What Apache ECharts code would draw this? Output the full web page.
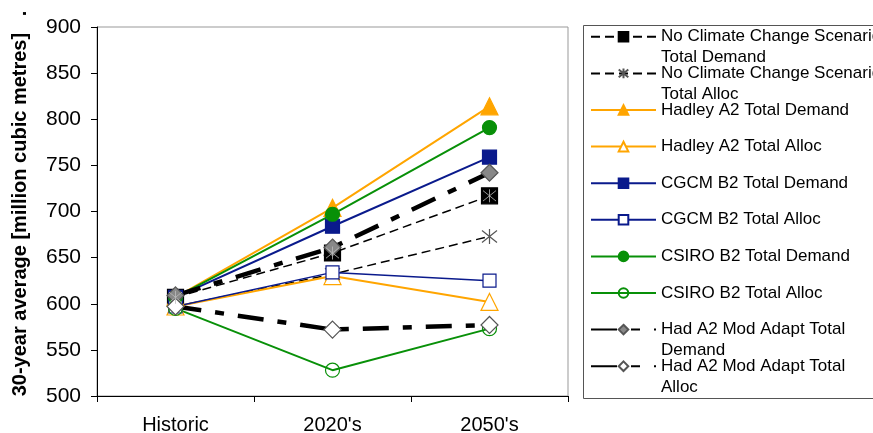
<!DOCTYPE html>
<html><head><meta charset="utf-8">
<script src="https://cdn.jsdelivr.net/npm/echarts@6/dist/echarts.min.js"></script>
<style>html,body{margin:0;padding:0;background:#fff}#c{width:873px;height:433px}</style>
</head><body><div id="c"></div>
<script>
const categories = ["Historic", "2020's", "2050's"];
const yTicks = [500, 550, 600, 650, 700, 750, 800, 850, 900];
const nccDemand = [607, 655, 717];
const nccAlloc = [597, 632, 673];
const hadleyDemand = [607, 704, 814];
const hadleyAlloc = [597, 630, 602];
const cgcmDemand = [607, 684, 759];
const cgcmAlloc = [597, 634, 625];
const csiroDemand = [607, 697, 791];
const csiroAlloc = [595, 528, 573];
const hadModDemand = [609, 661, 742];
const hadModAlloc = [597, 572, 577];

const names = [
  "No Climate Change Scenario\nTotal Demand",
  "No Climate Change Scenario\nTotal Alloc",
  "Hadley A2 Total Demand",
  "Hadley A2 Total Alloc",
  "CGCM B2 Total Demand",
  "CGCM B2 Total Alloc",
  "CSIRO B2 Total Demand",
  "CSIRO B2 Total Alloc",
  "Had A2 Mod Adapt Total\nDemand",
  "Had A2 Mod Adapt Total\nAlloc"
];
const ORANGE = '#FFA500', NAVY = '#0a1a8c', GREEN = '#089008';
const STAR = 'path://M0,-1L0,1M-0.8,-0.8L0.8,0.8M-0.8,0.8L0.8,-0.8';
const thick = [26, 14, 9, 14];

function line(name, data, color, width, type, symbol, size, fill, border) {
  return {
    name, type: 'line', data, symbol, symbolSize: size,
    lineStyle: { color, width, type },
    itemStyle: { color: fill, borderColor: border || fill, borderWidth: 1.2 },
    emphasis: { disabled: true }, z: 2
  };
}
const series = [
  line(names[0], nccDemand, '#000', 1.5, [9, 5], 'rect', 16, '#000', '#000'),
  line(names[1], nccAlloc, '#000', 1.5, [9, 5], STAR, 15, 'rgba(0,0,0,0)', '#555'),
  line(names[2], hadleyDemand, ORANGE, 2, 'solid', 'triangle', 17, ORANGE),
  line(names[3], hadleyAlloc, ORANGE, 2, 'solid', 'triangle', 17, '#fff', ORANGE),
  line(names[4], cgcmDemand, NAVY, 2, 'solid', 'rect', 14, NAVY),
  line(names[5], cgcmAlloc, NAVY, 1.5, 'solid', 'rect', 13, '#fff', NAVY),
  line(names[6], csiroDemand, GREEN, 2, 'solid', 'circle', 14, GREEN),
  line(names[7], csiroAlloc, GREEN, 2, 'solid', 'circle', 14, 'rgba(255,255,255,0)', GREEN),
  line(names[8], hadModDemand, '#000', 4.5, thick, 'diamond', 17, '#888', '#555'),
  line(names[9], hadModAlloc, '#000', 4.5, thick, 'diamond', 17, '#fff', '#555'),
  { name: 'star1', type: 'scatter', data: nccDemand, symbol: STAR, symbolSize: 13,
    itemStyle: { color: 'rgba(0,0,0,0)', borderColor: '#bbb', borderWidth: 1 }, z: 3, silent: true }
];

const LH = 21;
const legends = names.map((n, i) => {
  const two = n.indexOf('\n') >= 0;
  const cy = 36.8 + 36.6 * i;
  return {
    data: [n],
    formatter: two ? (nm => ' \n' + nm) : (nm => nm),
    left: 590, top: cy - (two ? 1.5 * LH : 0.5 * LH),
    orient: 'vertical', itemWidth: 65, itemHeight: 12, itemGap: 0, padding: 0,
    selectedMode: false,
    textStyle: { fontSize: 17, fontFamily: 'Liberation Sans', color: '#000', lineHeight: LH }
  };
});

const chart = echarts.init(document.getElementById('c'), null, { renderer: 'canvas' });
chart.setOption({
  animation: false,
  backgroundColor: '#fff',
  grid: { left: 97, right: 305, top: 27, bottom: 37, show: true, borderColor: '#999', borderWidth: 1,
    containLabel: false, outerBoundsMode: 'none' },
  legend: legends,
  graphic: [{ type: 'rect', shape: { x: 583.5, y: 25.5, width: 320, height: 373 },
    style: { fill: 'none', stroke: '#555', lineWidth: 1 }, z: -1 }],
  xAxis: {
    type: 'category', data: categories, boundaryGap: true,
    axisLine: { lineStyle: { color: '#000', width: 1 } },
    axisTick: { show: true, length: 6, lineStyle: { color: '#000' } },
    axisLabel: { fontSize: 20, fontFamily: 'Liberation Sans', color: '#000', margin: 19 }
  },
  yAxis: {
    type: 'value', min: yTicks[0], max: yTicks[yTicks.length - 1], interval: 50,
    axisLine: { show: true, lineStyle: { color: '#000', width: 1 } },
    axisTick: { show: true, length: 6, lineStyle: { color: '#000' } },
    splitLine: { show: false },
    axisLabel: { fontSize: 21, fontFamily: 'Liberation Sans', color: '#000', margin: 16 },
    name: '30-year average [million cubic metres]   .',
    nameLocation: 'middle', nameGap: 67,
    nameTextStyle: { fontSize: 20, fontWeight: 'bold', fontFamily: 'Liberation Sans', color: '#000', padding: [0, 0, 0, 16] }
  },
  series
});
</script></body></html>
